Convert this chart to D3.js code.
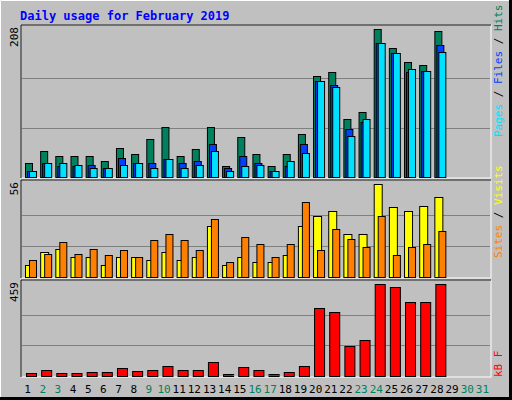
<!DOCTYPE html>
<html><head><meta charset="utf-8">
<script src="https://cdn.jsdelivr.net/npm/d3@7"></script>
<style>body{margin:0;background:#fff}svg{display:block}</style>
</head><body><svg></svg>
<script>
// Data
const days = d3.range(1, 32)
const weekend = [2, 3, 9, 10, 16, 17, 23, 24, 30, 31]
const hits = [19,36,29,29,30,22,41,32,54,70,29,40,70,16,56,32,16,32,60,142,147,81,91,208,181,161,157,205]
const files = [9,19,16,16,17,13,27,19,20,26,19,22,46,12,29,19,8,15,46,135,130,67,77,188,174,147,149,185]
const pages = [9,19,20,17,13,12,17,20,12,26,12,17,36,9,15,17,9,22,34,135,126,58,82,188,174,152,149,176]
const visits = [7,15,17,12,12,7,12,12,10,15,10,12,31,7,12,9,9,13,31,37,40,26,26,56,42,40,43,48]
const sites = [10,14,21,14,17,13,16,12,22,26,22,16,35,9,24,20,12,20,45,16,29,23,18,37,13,18,20,28]
const kbytes = [15,30,15,15,20,20,40,25,30,50,30,30,71,10,45,30,10,20,50,338,318,151,182,459,444,368,368,459]

const width = 512, height = 400
const left = 21, right = 491

const svg = d3.select('svg').attr('width', width).attr('height', height)
  .style('font-family', '"DejaVu Sans Mono", monospace')

// background frame
svg.append('rect').attr('width', width).attr('height', height).attr('fill', '#c0c0c0')
svg.append('path').attr('d', `M0.5,${height-0.5}V0.5H${width-0.5}`).attr('stroke', '#fff').attr('fill', 'none')
svg.append('path').attr('d', `M${width-1.5},1.5V${height-1.5}H1.5`).attr('stroke', '#808080').attr('stroke-width', 2).attr('fill', 'none')
svg.append('rect').attr('x', width-3).attr('y', 0).attr('width', 3).attr('height', height).attr('fill', '#000')
svg.append('rect').attr('x', 0).attr('y', height-3).attr('width', width).attr('height', 3).attr('fill', '#000')

svg.append('text').attr('x', 20).attr('y', 20).text('Daily usage for February 2019')
  .attr('fill', '#0000ff').attr('font-weight', 'bold').attr('font-size', 12)

const x = d3.scaleBand().domain(days).range([left, right])

let panel = (top, bottom, max) => {
  svg.append('rect').attr('x', left).attr('y', top).attr('width', right-left).attr('height', bottom-top)
    .attr('fill', '#c0c0c0').attr('stroke', '#fff')
  svg.append('path').attr('d', `M${left},${bottom}V${top}H${right}`).attr('stroke', '#000').attr('fill', 'none')
  const y = d3.scaleLinear().domain([0, max]).range([bottom - 1, top + 4])
  svg.append('g').selectAll('line').data([max / 3, max * 2 / 3]).enter().append('line')
    .attr('x1', left + 1).attr('x2', right - 1)
    .attr('y1', d => Math.round(y(d)) + 0.5).attr('y2', d => Math.round(y(d)) + 0.5)
    .attr('stroke', '#808080')
  svg.append('text').text(max).attr('font-size', 11)
    .attr('transform', `translate(18,${top + 2}) rotate(-90)`).attr('text-anchor', 'end')
  return y
}

let bars = (y, data, dx, w, color) => {
  svg.append('g').selectAll('rect').data(data).enter().append('rect')
    .attr('x', (d, i) => x(i + 1) + dx + 0.5)
    .attr('y', d => Math.round(y(d)) + 0.5)
    .attr('width', w)
    .attr('height', d => y(0) - Math.round(y(d)))
    .attr('fill', color).attr('stroke', '#000')
}

let sideLabel = (yPos, parts) => {
  const t = svg.append('text').attr('font-size', 11)
    .attr('transform', `translate(502,${yPos}) rotate(-90)`)
  parts.forEach(p => t.append('tspan').text(p[0]).attr('fill', p[1]))
}

// hits / files / pages
const y1 = panel(25, 178, 208)
bars(y1, hits, 4, 7, '#00805c')
bars(y1, files, 6, 7, '#0040ff')
bars(y1, pages, 8, 7, '#00e0ff')
sideLabel(137, [['Pages', '#00e0ff'], [' / ', '#000'], ['Files', '#0040ff'], [' / ', '#000'], ['Hits', '#00805c']])

// visits / sites
const y2 = panel(180, 278, 56)
bars(y2, visits, 4, 8, '#ffff00')
bars(y2, sites, 8, 7, '#ff8000')
sideLabel(258, [['Sites', '#ff8000'], [' / ', '#000'], ['Visits', '#ffff00']])

// kbytes
const y3 = panel(280, 377, 459)
bars(y3, kbytes, 5, 10, '#ff0000')
sideLabel(377, [['kB F', '#ff0000']])

// day labels
svg.append('g').selectAll('text').data(days).enter().append('text')
  .attr('x', d => x(d) + x.bandwidth() / 2 - 1)
  .attr('y', 393)
  .attr('text-anchor', 'middle').attr('font-size', 11)
  .attr('fill', d => weekend.includes(d) ? '#00805c' : '#000')
  .text(d => d)
</script></body></html>
